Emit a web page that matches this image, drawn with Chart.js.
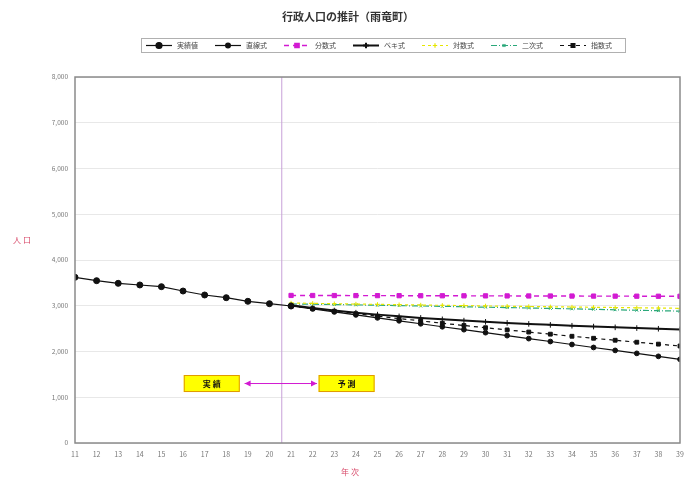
<!DOCTYPE html>
<html lang="ja">
<head>
<meta charset="utf-8">
<script src="https://cdn.jsdelivr.net/npm/chart.js@4/dist/chart.umd.min.js"></script>
<style>
  html, body { margin: 0; padding: 0; background: #fff; }
  #wrap { width: 696px; height: 483px; position: relative; }
</style>
</head>
<body>
<div id="wrap"><canvas id="c" width="696" height="483"></canvas></div>
<script>
// 年次（平成）
const actualYears = [11, 12, 13, 14, 15, 16, 17, 18, 19, 20, 21];
const projYears = [21, 22, 23, 24, 25, 26, 27, 28, 29, 30, 31, 32, 33, 34, 35, 36, 37, 38, 39];

// 実績値
const actualPop = [3622, 3548, 3490, 3454, 3417, 3322, 3235, 3176, 3097, 3045, 2994];

// 推計値
const linearPop = [2994, 2930, 2865, 2800, 2735, 2671, 2606, 2541, 2477, 2412, 2347, 2282, 2218, 2153, 2088, 2024, 1959, 1894, 1829];
const fractionPop = [3225, 3224, 3223, 3222, 3221, 3220, 3219, 3218, 3217, 3216, 3215, 3214, 3213, 3212, 3211, 3210, 3209, 3208, 3207];
const powerPop = [3010, 2950, 2895, 2848, 2806, 2768, 2734, 2703, 2675, 2649, 2625, 2603, 2582, 2563, 2545, 2528, 2512, 2497, 2482];
const logPop = [3060, 3052, 3045, 3037, 3030, 3023, 3016, 3009, 3003, 2996, 2990, 2984, 2978, 2972, 2966, 2961, 2955, 2950, 2944];
const quadPop = [3040, 3033, 3026, 3019, 3011, 3003, 2995, 2987, 2978, 2969, 2960, 2951, 2942, 2932, 2922, 2912, 2902, 2892, 2882];
const expPop = [2994, 2937, 2881, 2827, 2773, 2720, 2669, 2618, 2568, 2520, 2472, 2425, 2379, 2333, 2289, 2246, 2203, 2161, 2120];

const seriesNames = ['実績値', '直線式', '分数式', 'ベキ式', '対数式', '二次式', '指数式'];
const yTicks = [0, 1000, 2000, 3000, 4000, 5000, 6000, 7000, 8000];

const titleText = '行政人口の推計（雨竜町）';
const boundaryYear = 20.57;

const pair = (xs, ys) => xs.map((x, i) => ({ x: x, y: ys[i] }));

const styles = [
  { color: '#111', dash: [], width: 1.2, point: 'circle', r: 3.0 },
  { color: '#111', dash: [], width: 1.2, point: 'circle', r: 2.4 },
  { color: '#d21ad2', dash: [5, 4], width: 1.4, point: 'rect', r: 3.0 },
  { color: '#111', dash: [], width: 2.0, point: 'cross', r: 2.8 },
  { color: '#e6e600', dash: [3, 3], width: 1.2, point: 'cross', r: 2.2 },
  { color: '#2aa87a', dash: [6, 2, 1, 2], width: 1.2, point: 'crossRot', r: 2.0 },
  { color: '#111', dash: [4, 4], width: 1.2, point: 'rect', r: 2.7 }
];

const seriesData = [
  pair(actualYears, actualPop),
  pair(projYears, linearPop),
  pair(projYears, fractionPop),
  pair(projYears, powerPop),
  pair(projYears, logPop),
  pair(projYears, quadPop),
  pair(projYears, expPop)
];

const datasets = seriesData.map((d, i) => ({
  label: seriesNames[i],
  data: d,
  borderColor: styles[i].color,
  backgroundColor: styles[i].color,
  pointBorderColor: styles[i].color,
  pointBackgroundColor: styles[i].color,
  borderWidth: styles[i].width,
  borderDash: styles[i].dash,
  pointStyle: styles[i].point,
  pointRadius: styles[i].r,
  pointBorderWidth: 1,
  tension: 0,
  fill: false
}));

const FONT = '"Noto Sans CJK JP", "Noto Sans", sans-serif';

// 見出し・凡例・軸見出し・注記
const decor = {
  id: 'decor',
  beforeDatasetsDraw(chart) {
    const { ctx, scales: { x }, chartArea: a } = chart;
    const bx = x.getPixelForValue(boundaryYear);
    ctx.save();
    ctx.strokeStyle = '#c8a0d8';
    ctx.lineWidth = 1;
    ctx.beginPath();
    ctx.moveTo(bx, a.top);
    ctx.lineTo(bx, a.bottom);
    ctx.stroke();
    ctx.restore();
  },
  afterDraw(chart) {
    const { ctx, scales: { x, y }, chartArea: a } = chart;
    ctx.save();

    // plot border
    ctx.strokeStyle = '#8a8a8a';
    ctx.lineWidth = 1.5;
    ctx.strokeRect(a.left, a.top, a.right - a.left, a.bottom - a.top);

    // title
    ctx.fillStyle = '#333';
    ctx.font = '600 11px ' + FONT;
    ctx.textAlign = 'center';
    ctx.textBaseline = 'middle';
    ctx.fillText(titleText, 348, 17);

    // legend box
    const lx = 141, ly = 38, lw = 484, lh = 14;
    ctx.fillStyle = '#fff';
    ctx.fillRect(lx, ly, lw, lh);
    ctx.strokeStyle = '#b0b0b0';
    ctx.lineWidth = 1;
    ctx.strokeRect(lx + 0.5, ly + 0.5, lw, lh);
    const cy = ly + lh / 2 + 0.5;
    const step = 69;
    for (let i = 0; i < seriesNames.length; i++) {
      const st = styles[i];
      const sx = 146 + i * step;
      ctx.strokeStyle = st.color;
      ctx.lineWidth = st.width;
      ctx.setLineDash(st.dash);
      ctx.beginPath();
      ctx.moveTo(sx, cy);
      ctx.lineTo(sx + 26, cy);
      ctx.stroke();
      ctx.setLineDash([]);
      ctx.fillStyle = st.color;
      ctx.strokeStyle = st.color;
      Chart.helpers.drawPoint(ctx, {
        pointStyle: st.point, radius: st.r, borderWidth: 1, rotation: 0
      }, sx + 13, cy);
      ctx.fillStyle = '#444';
      ctx.font = '7px ' + FONT;
      ctx.textAlign = 'left';
      ctx.textBaseline = 'middle';
      ctx.fillText(seriesNames[i], sx + 31, cy);
    }

    // axis titles
    ctx.fillStyle = '#d84a6a';
    ctx.font = '8px ' + FONT;
    ctx.textAlign = 'center';
    ctx.textBaseline = 'middle';
    ctx.fillText('人 口', 22, 240);
    ctx.fillText('年 次', 350, 472);

    // 実績 / 予測 boxes
    const boxY = y.getPixelForValue(1300);
    const drawBox = (cx, text) => {
      const w = 56, h = 17;
      ctx.fillStyle = '#ffff00';
      ctx.fillRect(cx - w / 2, boxY - h / 2, w, h);
      ctx.strokeStyle = '#e09a00';
      ctx.lineWidth = 1;
      ctx.strokeRect(cx - w / 2 + 0.5, boxY - h / 2 + 0.5, w - 1, h - 1);
      ctx.fillStyle = '#111';
      ctx.font = 'bold 8px ' + FONT;
      ctx.textAlign = 'center';
      ctx.textBaseline = 'middle';
      ctx.fillText(text, cx, boxY + 0.5);
    };
    drawBox(x.getPixelForValue(17.33), '実 績');
    drawBox(x.getPixelForValue(23.57), '予 測');

    // double arrow
    const ax1 = x.getPixelForValue(18.85), ax2 = x.getPixelForValue(22.2);
    ctx.strokeStyle = '#d21ad2';
    ctx.fillStyle = '#d21ad2';
    ctx.lineWidth = 1;
    ctx.beginPath();
    ctx.moveTo(ax1, boxY);
    ctx.lineTo(ax2, boxY);
    ctx.stroke();
    const head = (px, dir) => {
      ctx.beginPath();
      ctx.moveTo(px, boxY);
      ctx.lineTo(px + dir * 6, boxY - 3);
      ctx.lineTo(px + dir * 6, boxY + 3);
      ctx.closePath();
      ctx.fill();
    };
    head(ax1, 1);
    head(ax2, -1);

    ctx.restore();
  }
};

const allYears = actualYears.concat(projYears).filter((v, i, arr) => arr.indexOf(v) === i).sort((a, b) => a - b);

new Chart(document.getElementById('c'), {
  type: 'line',
  data: { datasets: datasets },
  options: {
    responsive: false,
    animation: false,
    devicePixelRatio: 1,
    layout: { padding: { top: 77, right: 16, left: 0, bottom: 0 } },
    plugins: {
      legend: { display: false },
      title: { display: false },
      tooltip: { enabled: false }
    },
    scales: {
      x: {
        type: 'linear',
        min: 11,
        max: 39,
        afterFit(s) { s.height = 40; },
        afterBuildTicks(s) { s.ticks = allYears.map(v => ({ value: v })); },
        grid: { display: false, drawTicks: true, tickLength: 3 },
        border: { display: false },
        ticks: {
          color: '#777',
          font: { size: 7, family: FONT },
          padding: 4,
          maxRotation: 0,
          autoSkip: false
        }
      },
      y: {
        min: 0,
        max: 8000,
        afterFit(s) { s.width = 75; },
        afterBuildTicks(s) { s.ticks = yTicks.map(v => ({ value: v })); },
        grid: {
          color: '#e2e2e2',
          lineWidth: 0.8,
          drawTicks: false
        },
        border: { display: false },
        ticks: {
          color: '#777',
          font: { size: 6.5, family: FONT },
          padding: 7,
          callback: v => v.toLocaleString('en-US')
        }
      }
    }
  },
  plugins: [decor]
});
</script>
</body>
</html>
